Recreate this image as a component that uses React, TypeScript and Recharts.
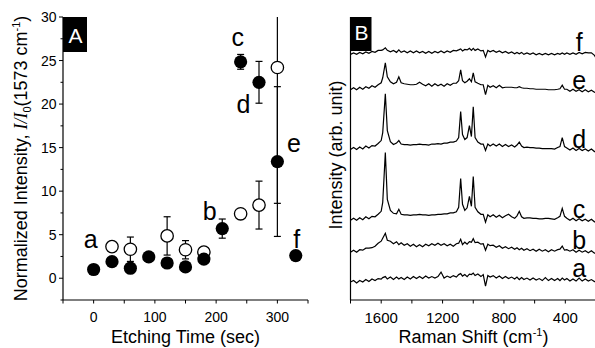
import React from 'react';
import { ScatterChart, Scatter, XAxis, YAxis, ErrorBar, LineChart, Line } from 'recharts';

const FONT = '"Liberation Sans", Arial, Helvetica, sans-serif';

// ---------- Panel A data ----------
const etchTimeFilled = [0, 30, 60, 90, 120, 150, 180, 210, 240, 270, 300, 330];
const intensityFilled = [1.0, 1.9, 1.15, 2.45, 1.75, 1.3, 2.2, 5.7, 24.85, 22.5, 13.4, 2.6];
const errorFilled = [0, 0, 0, 0, 0, 0, 0, 1.1, 0.85, 2.4, 8.6, 0];
const pointLabels = ['a', '', '', '', '', '', '', 'b', 'c', 'd', 'e', 'f'];

const etchTimeOpen = [30, 60, 120, 150, 180, 240, 270, 300];
const intensityOpen = [3.63, 3.33, 4.86, 3.27, 3.0, 7.4, 8.4, 24.2];
const errorOpen = [0.3, 1.4, 2.2, 1.05, 0.3, 0.45, 2.75, 15.6];

const timeTicks = [-50, 0, 50, 100, 150, 200, 250, 300, 350];
const timeTickLabels = [0, 100, 200, 300];
const intensityTicks = [-2.5, 0, 2.5, 5, 7.5, 10, 12.5, 15, 17.5, 20, 22.5, 25, 27.5, 30];
const intensityTickLabels = [0, 5, 10, 15, 20, 25, 30];

// ---------- Panel B data ----------
const ramanShift = [
  1800, 1780, 1760, 1740, 1720, 1700, 1680, 1660, 1640, 1620,
  1600, 1590, 1573, 1560, 1540, 1520, 1500, 1485, 1470, 1450,
  1430, 1410, 1390, 1370, 1350, 1330, 1310, 1290, 1270, 1250,
  1230, 1210, 1190, 1170, 1150, 1130, 1110, 1095, 1082, 1070,
  1055, 1040, 1025, 1012, 1000, 988, 970, 950, 935, 920,
  905, 890, 870, 850, 830, 810, 790, 770, 750, 730,
  715, 700, 685, 670, 650, 630, 610, 590, 570, 550,
  530, 510, 490, 470, 450, 435, 420, 405, 390, 370,
  350, 330, 310, 290, 270, 250, 230, 210, 200,
];
const spectrumA = [
  18, 19.5, 17, 19.5, 18, 20.5, 18.5, 21, 19.5, 21.5,
  21, 22.5, 23.5, 21, 23, 20.5, 23, 21, 22.5, 20.5,
  23, 21, 23.5, 21.5, 23.5, 21.5, 24, 22, 23.5, 22,
  23.5, 28, 22, 24, 22.5, 24.5, 23, 25.5, 26.5, 24,
  25.5, 23.5, 26, 25.5, 27, 24.5, 26, 23.5, 25.5, 14,
  24.5, 23, 24.5, 22, 24, 21.5, 23.5, 21.5, 23, 21,
  23, 20.5, 22.5, 20.5, 22, 20, 22, 20, 21.5, 19.5,
  22.5, 19.5, 21.5, 19.5, 21.5, 19.5, 22, 20, 21.5, 19,
  21, 19, 22, 19, 21, 19, 20.5, 18.5, 18.5,
];
const spectrumB = [
  48, 50, 48, 50.5, 50, 52, 52, 52.5, 54, 57,
  59, 62, 67, 60, 59, 56.5, 58.5, 55.5, 57.5, 55,
  56.5, 54, 56, 53.5, 55.5, 53.5, 56, 54.5, 56.5, 55,
  57, 55, 56.5, 54.5, 56, 54, 56.5, 57, 61, 55.5,
  58, 56, 58.5, 58, 61.5, 57.5, 58, 56, 56.5, 50,
  56, 54.5, 55, 53, 54.5, 52, 53.5, 51.5, 53, 51,
  52.5, 50.5, 52, 50, 51.5, 49.5, 51, 49, 51, 49,
  50.5, 48.5, 50.5, 49, 50.5, 51, 54, 50, 50.5, 49,
  50.5, 48, 50, 48, 49.5, 47.5, 49.5, 47, 47,
];
const spectrumC = [
  80, 82, 80, 82.5, 80.5, 83.5, 81.5, 84, 83.5, 86,
  89, 98, 148, 101, 90, 87, 86.5, 91, 86, 85.5,
  85.5, 85, 85.5, 85.5, 86, 85.5, 85.5, 85, 85.5, 85.5,
  86, 86, 86.5, 86.5, 87.5, 87.5, 88.5, 93, 122, 96,
  90, 92.5, 104, 94, 124, 93, 88.5, 86, 86, 78,
  85.5, 83.5, 85.5, 83, 85, 82.5, 84.5, 86, 83.5, 82,
  84.5, 89, 83.5, 82, 82.5, 82.5, 82, 82, 81.5, 81.5,
  82, 82, 81.5, 81, 82.5, 84, 92, 84, 82, 80,
  82, 79.5, 81.5, 79.5, 81, 79, 81, 78.5, 78.5,
];
const spectrumD = [
  151, 153, 151, 153.5, 151.5, 154.5, 152.5, 155, 154.5, 157,
  160, 168, 207, 170, 159, 156, 157.5, 160, 156.5, 156,
  156, 155.5, 156, 156, 156.5, 156, 156, 155.5, 156.5, 156.5,
  157, 156.5, 157.5, 157.5, 158.5, 158.5, 159.5, 163, 189, 166,
  161, 163, 175, 164, 194, 163, 158.5, 156.5, 156.5, 150,
  156.5, 154.5, 156.5, 154.5, 156.5, 154, 156, 154, 155.5, 153.5,
  155.5, 158.5, 154.5, 153, 153.5, 153, 153, 152.5, 152.5, 152,
  152, 152, 152, 151.5, 153, 154, 163, 154, 152.5, 150.5,
  152.5, 150, 152, 150, 151.5, 149.5, 151.5, 149, 149,
];
const spectrumE = [
  211, 213, 211, 213.5, 211.5, 214, 212.5, 215, 213.5, 216,
  218, 223, 238, 224, 219, 217, 218.5, 224, 218, 217,
  216.5, 216, 216, 216.5, 218.5, 216.5, 215, 217, 214.5, 217,
  215, 216.5, 214.5, 217, 215.5, 217.5, 217.5, 220, 231, 220,
  218, 219.5, 222, 219, 228, 219, 217.5, 216, 216, 206,
  215.5, 213.5, 215, 213, 215.5, 213, 213.5, 213.5, 213.5, 213,
  213, 214, 213, 212.5, 212.5, 212, 212, 211.5, 211.5, 211.5,
  211.5, 211, 211, 211, 211.5, 212, 215.5, 211.5, 211.5, 209.5,
  211.5, 209.5, 211, 209, 211, 209, 210.5, 208.5, 208,
];
const spectrumF = [
  246.5, 248, 246.5, 248.5, 247, 249, 247.5, 249.5, 248.5, 250.5,
  250.5, 251, 253, 250.5, 249, 250.5, 248.5, 251, 248.5, 250,
  248, 250, 248, 250, 248, 249.5, 247.5, 249.5, 247.5, 249.5,
  248, 250, 248, 250, 248.5, 250.5, 250, 251, 252, 250,
  251.5, 251, 252.5, 250.5, 252.5, 250.5, 252, 250, 250.5, 244,
  250.5, 249, 250.5, 248.5, 250, 248, 249.5, 247.5, 249, 247,
  248.5, 247, 248.5, 246.5, 248, 246.5, 248, 246, 247.5, 246,
  247.5, 246, 247.5, 246, 247.5, 246.5, 248, 246.5, 248, 246.5,
  248, 246.5, 248.5, 247, 248.5, 248, 248, 245.5, 243,
];
const spectrumNames = ['a', 'b', 'c', 'd', 'e', 'f'];
const spectra = [spectrumA, spectrumB, spectrumC, spectrumD, spectrumE, spectrumF];
const ramanTicks = [1800, 1600, 1400, 1200, 1000, 800, 600, 400, 200];
const ramanTickLabels = [1600, 1200, 800, 400];
const spectrumLabelShift = 310;

// styling for letter annotations in panel A (offset from the point, px)
const LETTER_OFFSETS: Record<string, [number, number]> = {
  a: [-3, -22],
  b: [-12.5, -8.5],
  c: [-3, -15.5],
  d: [-15.5, 30.5],
  e: [16.5, -10],
  f: [1, -7.5],
};

const filledData = etchTimeFilled.map((x, i) => ({
  x,
  y: intensityFilled[i],
  err: errorFilled[i],
  label: pointLabels[i],
}));
const openData = etchTimeOpen.map((x, i) => ({ x, y: intensityOpen[i], err: errorOpen[i] }));
const spectraRows = ramanShift.map((x, i) => {
  const row: Record<string, number> = { x };
  spectrumNames.forEach((n, k) => {
    row[n] = spectra[k][i];
  });
  return row;
});
const labelIndex = ramanShift.indexOf(spectrumLabelShift);

const FilledDot = (props: any) => {
  const { cx, cy, payload } = props;
  const lab: string = payload?.label || '';
  const off = lab ? LETTER_OFFSETS[lab] : null;
  return (
    <g>
      <circle cx={cx} cy={cy} r={6.6} fill="#000" />
      {off ? (
        <text x={cx + off[0]} y={cy + off[1]} textAnchor="middle" fontSize={25} fontFamily={FONT} fill="#000">
          {lab}
        </text>
      ) : null}
    </g>
  );
};

const OpenDot = (props: any) => {
  const { cx, cy } = props;
  return <circle cx={cx} cy={cy} r={6.2} fill="#fff" stroke="#000" strokeWidth={1.3} />;
};

const makeXTick = (labels: number[], fontSize: number) => (p: any) => {
  const { x, y, payload } = p;
  const v = payload.value;
  const show = labels.includes(v);
  return (
    <g key={`xt-${v}`}>
      <line x1={x} y1={y} x2={x} y2={y + 3.5} stroke="#000" strokeWidth={1} />
      {show ? (
        <text x={x} y={y + 12} dy="0.71em" textAnchor="middle" fontSize={fontSize} fontFamily={FONT} fill="#000">
          {v}
        </text>
      ) : null}
    </g>
  );
};

const yTickA = (p: any) => {
  const { x, y, payload } = p;
  const v = payload.value;
  const show = intensityTickLabels.includes(v);
  return (
    <g key={`yt-${v}`}>
      <line x1={x - (show ? 4 : 2.5)} y1={y} x2={x} y2={y} stroke="#000" strokeWidth={1} />
      {show ? (
        <text x={x - 6.5} y={y} dy="0.36em" textAnchor="end" fontSize={14} fontFamily={FONT} fill="#000">
          {v}
        </text>
      ) : null}
    </g>
  );
};

const axisLine = { stroke: '#000', strokeWidth: 1.2 };
const MARGIN_A = { top: 17, right: 12, bottom: 18, left: 23 };

export default function App() {
  return (
    <div
      style={{
        position: 'absolute',
        left: 0,
        top: 0,
        width: 595,
        height: 348,
        overflow: 'hidden',
        background: '#fff',
      }}
    >
      {/* Panel A: axes and frame */}
      <div style={{ position: 'absolute', left: 0, top: 0 }}>
        <ScatterChart width={320} height={348} margin={MARGIN_A}>
          <XAxis
            dataKey="x"
            type="number"
            domain={[-50, 350]}
            ticks={timeTicks}
            interval={0}
            tickSize={0}
            tickMargin={0}
            tickLine={false}
            tick={makeXTick(timeTickLabels, 14)}
            height={30}
            axisLine={axisLine}
            allowDataOverflow
          />
          <XAxis
            xAxisId="top"
            orientation="top"
            type="number"
            domain={[-50, 350]}
            tick={false}
            tickLine={false}
            height={0}
            axisLine={axisLine}
          />
          <YAxis
            dataKey="y"
            type="number"
            domain={[-2.5, 30]}
            ticks={intensityTicks}
            interval={0}
            tickSize={0}
            tickMargin={0}
            tickLine={false}
            tick={yTickA}
            width={40}
            axisLine={axisLine}
            allowDataOverflow
          />
          <YAxis
            yAxisId="right"
            orientation="right"
            type="number"
            domain={[-2.5, 30]}
            tick={false}
            tickLine={false}
            width={0}
            axisLine={axisLine}
          />
        </ScatterChart>
      </div>
      {/* Panel A: data, clipped to the plot frame */}
      <div style={{ position: 'absolute', left: 0, top: 0, clipPath: 'inset(17px 12px 48px 63px)' }}>
        <ScatterChart width={320} height={348} margin={MARGIN_A}>
          <XAxis
            dataKey="x"
            type="number"
            domain={[-50, 350]}
            tick={false}
            tickLine={false}
            axisLine={false}
            height={30}
            allowDataOverflow
          />
          <YAxis
            dataKey="y"
            type="number"
            domain={[-2.5, 30]}
            tick={false}
            tickLine={false}
            axisLine={false}
            width={40}
            allowDataOverflow
          />
          <Scatter data={openData} dataKey="y" shape={OpenDot} isAnimationActive={false}>
            <ErrorBar dataKey="err" direction="y" width={3.5} stroke="#000" strokeWidth={1.2} />
          </Scatter>
          <Scatter data={filledData} dataKey="y" shape={FilledDot} isAnimationActive={false}>
            <ErrorBar dataKey="err" direction="y" width={3.5} stroke="#000" strokeWidth={1.2} />
          </Scatter>
        </ScatterChart>
      </div>
      {/* Panel B */}
      <div style={{ position: 'absolute', left: 300, top: 0 }}>
        <LineChart width={300} height={348} data={spectraRows} margin={{ top: 17, right: 4, bottom: 18, left: 10.5 }}>
          <XAxis
            dataKey="x"
            type="number"
            domain={[200, 1800]}
            reversed
            ticks={ramanTicks}
            interval={0}
            tickSize={0}
            tickMargin={0}
            tickLine={false}
            tick={makeXTick(ramanTickLabels, 15)}
            height={30}
            axisLine={axisLine}
          />
          <XAxis
            xAxisId="top"
            orientation="top"
            type="number"
            domain={[200, 1800]}
            tick={false}
            tickLine={false}
            height={0}
            axisLine={axisLine}
          />
          <YAxis type="number" domain={[0, 284]} tick={false} tickLine={false} width={40} axisLine={axisLine} />
          {spectrumNames.map((n) => (
            <Line
              key={n}
              dataKey={n}
              type="linear"
              stroke="#000"
              strokeWidth={1.2}
              isAnimationActive={false}
              dot={(p: any) =>
                p.index === labelIndex ? (
                  <text
                    key={`lab-${n}`}
                    x={p.cx}
                    y={p.cy - 1}
                    textAnchor="middle"
                    fontSize={25}
                    fontFamily={FONT}
                    fill="#000"
                  >
                    {n}
                  </text>
                ) : (
                  <g key={`d-${n}-${p.index}`} />
                )
              }
            />
          ))}
        </LineChart>
      </div>
      <svg
        width={595}
        height={348}
        style={{ position: 'absolute', left: 0, top: 0, pointerEvents: 'none' }}
        fontFamily={FONT}
      >
        {/* panel tags */}
        <rect x={63} y={17} width={24} height={35} fill="#000" />
        <text x={75.5} y={42.5} textAnchor="middle" fontSize={21} fill="#fff">
          A
        </text>
        <rect x={350.5} y={17} width={21} height={34} fill="#000" />
        <text x={361.5} y={40} textAnchor="middle" fontSize={21} fill="#fff">
          B
        </text>
        {/* axis titles */}
        <text x={185.5} y={343} textAnchor="middle" fontSize={18} fill="#000">
          Etching Time (sec)
        </text>
        <text x={473.5} y={343} textAnchor="middle" fontSize={18} fill="#000">
          Raman Shift (cm<tspan dy={-7} fontSize={11}>-1</tspan>
          <tspan dy={7}>)</tspan>
        </text>
        <text transform="translate(27,158.5) rotate(-90)" textAnchor="middle" fontSize={18} fill="#000">
          Normalized Intensity,{' '}
          <tspan fontFamily='"Liberation Serif", "Times New Roman", serif' fontStyle="italic">
            I/I
          </tspan>
          <tspan dy={4} fontSize={11}>
            0
          </tspan>
          <tspan dy={-4}>(1573 cm</tspan>
          <tspan dy={-7} fontSize={11}>
            -1
          </tspan>
          <tspan dy={7}>)</tspan>
        </text>
        <text transform="translate(342,155) rotate(-90)" textAnchor="middle" fontSize={18} fill="#000">
          Intensity (arb. unit)
        </text>
      </svg>
    </div>
  );
}
